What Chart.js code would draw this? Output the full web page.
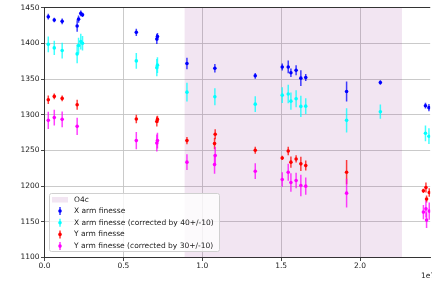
<!DOCTYPE html>
<html>
<head>
<meta charset="utf-8">
<script src="https://cdn.jsdelivr.net/npm/chart.js@4.4.1/dist/chart.umd.min.js"></script>
<style>
  html, body { margin: 0; padding: 0; background: #fff; overflow: hidden; }
  canvas { display: block; }
</style>
</head>
<body>
<canvas id="finesseChart" width="432" height="281"></canvas>
<script>
// measurement times (seconds), X arm and Y arm
const xArmTimes = [2.4e5, 6.2e5, 1.12e6, 2.07e6, 2.16e6, 2.30e6, 2.41e6, 5.82e6, 7.12e6, 7.16e6,
  9.03e6, 1.080e7, 1.336e7, 1.507e7, 1.545e7, 1.562e7, 1.595e7, 1.625e7, 1.656e7, 1.915e7,
  2.129e7, 2.415e7, 2.437e7];
const xFinesse = [1437.4, 1432.8, 1430.9, 1424.4, 1434, 1442, 1440, 1415.5, 1406, 1409.5,
  1371.8, 1365.2, 1354.6, 1367, 1367, 1358.8, 1362.4, 1351.3, 1352.2, 1332.7,
  1345.2, 1312.7, 1310];
const xFinesseErr = [4, 3, 4, 8, 5, 4, 3, 5, 7, 5, 8, 6, 4, 5, 9, 6, 7, 11, 5, 14, 3, 4, 5];
const xCorrected = [1398.7, 1393.7, 1390, 1385.3, 1397, 1402.6, 1400.2, 1375.5, 1366, 1369.5,
  1331.7, 1325.3, 1314.9, 1327.5, 1329, 1319.1, 1322.4, 1311.7, 1312.1, 1292.2,
  1304.3, 1274, 1270];
const xCorrectedErr = [11, 10, 11, 13, 11, 11, 10, 11, 12, 11, 13, 12, 11, 11, 13, 12, 12, 15, 11, 17, 10, 11, 11];

const yArmTimes = [2.4e5, 6.2e5, 1.12e6, 2.07e6, 5.82e6, 7.12e6, 7.16e6, 9.03e6, 1.078e7, 1.082e7,
  1.336e7, 1.507e7, 1.545e7, 1.562e7, 1.595e7, 1.625e7, 1.656e7, 1.915e7,
  2.402e7, 2.418e7, 2.422e7, 2.439e7];
const yFinesse = [1321.1, 1325.7, 1322.9, 1314.1, 1294, 1290.5, 1293.5, 1263.8, 1259.6, 1272.6,
  1250.3, 1239.5, 1249.3, 1233.6, 1238.1, 1231.2, 1228.8, 1219.5,
  1193.5, 1198, 1182, 1191];
const yFinesseErr = [6, 4, 4, 7, 6, 7, 5, 5, 8, 7, 5, 3, 6, 8, 5, 10, 7, 17, 3, 7, 5, 6];
const yCorrected = [1292.2, 1296, 1293.6, 1283.8, 1263.8, 1260.5, 1263.8, 1233.6, 1230.2, 1242.8,
  1220.9, 1209.3, 1219.5, 1205.1, 1207.9, 1200.9, 1200, 1190.2,
  1163.6, 1168.2, 1152.4, 1165];
const yCorrectedErr = [12, 11, 11, 12, 12, 12, 11, 11, 13, 12, 11, 10, 12, 13, 11, 15, 12, 20, 10, 12, 11, 12];

const o4cSpan = [0.888e7, 2.266e7];
const xTickValues = [0, 0.5e7, 1.0e7, 1.5e7, 2.0e7];
const yTickValues = [1100, 1150, 1200, 1250, 1300, 1350, 1400, 1450];

const seriesLabels = ['X arm finesse', 'X arm finesse (corrected by 40+/-10)',
  'Y arm finesse', 'Y arm finesse (corrected by 30+/-10)'];
const seriesColors = ['#0000ff', '#00ffff', '#ff0000', '#ff00ff'];
const spanFill = 'rgba(128, 0, 128, 0.1)';

function points(times, vals, errs) {
  return times.map((t, i) => ({ x: t, y: vals[i], err: errs[i] }));
}

const FONT = "'DejaVu Sans', sans-serif";
Chart.defaults.font.family = FONT;

// shaded O4c band + error bars, under the markers
const errorBars = {
  id: 'errorBars',
  beforeDatasetsDraw(chart) {
    const { ctx, chartArea, scales: { x, y } } = chart;
    ctx.save();
    ctx.beginPath();
    ctx.rect(chartArea.left, chartArea.top, chartArea.right - chartArea.left, chartArea.bottom - chartArea.top);
    ctx.clip();
    const x0 = x.getPixelForValue(o4cSpan[0]);
    const x1 = x.getPixelForValue(o4cSpan[1]);
    ctx.fillStyle = spanFill;
    ctx.fillRect(x0, chartArea.top, x1 - x0, chartArea.bottom - chartArea.top);

    chart.data.datasets.forEach((ds) => {
      ctx.strokeStyle = ds.barColor;
      ctx.lineWidth = 1.5;
      ds.data.forEach((p) => {
        const px = x.getPixelForValue(p.x);
        ctx.beginPath();
        ctx.moveTo(px, y.getPixelForValue(p.y - p.err));
        ctx.lineTo(px, y.getPixelForValue(p.y + p.err));
        ctx.stroke();
      });
    });
    ctx.restore();
  },
  afterDraw(chart) {
    const { ctx, chartArea } = chart;
    ctx.save();
    // top spine
    ctx.strokeStyle = '#333';
    ctx.lineWidth = 1;
    ctx.beginPath();
    ctx.moveTo(chartArea.left, chartArea.top + 0.5);
    ctx.lineTo(chartArea.right, chartArea.top + 0.5);
    ctx.stroke();

    // offset label
    ctx.fillStyle = '#222';
    ctx.font = '7.5px ' + FONT;
    ctx.textAlign = 'left';
    ctx.textBaseline = 'middle';
    ctx.fillText('1e7', 421, 276);

    // legend
    const bx = 49.5, by = 193.5, bw = 170, bh = 58;
    ctx.beginPath();
    ctx.roundRect(bx, by, bw, bh, 2);
    ctx.fillStyle = 'rgba(255,255,255,0.8)';
    ctx.fill();
    ctx.strokeStyle = '#d0d0d0';
    ctx.stroke();

    ctx.fillStyle = spanFill;
    ctx.fillRect(52, 197, 16, 5.5);
    ctx.fillStyle = '#222';
    ctx.fillText('O4c', 74, 200);

    seriesLabels.forEach((lab, i) => {
      const ly = 211 + i * 11.7;
      ctx.strokeStyle = seriesColors[i];
      ctx.globalAlpha = 0.8;
      ctx.lineWidth = 1.5;
      ctx.beginPath();
      ctx.moveTo(60, ly - 4);
      ctx.lineTo(60, ly + 4);
      ctx.stroke();
      ctx.globalAlpha = 1;
      ctx.fillStyle = seriesColors[i];
      ctx.beginPath();
      ctx.arc(60, ly, 1.8, 0, Math.PI * 2);
      ctx.fill();
      ctx.fillStyle = '#222';
      ctx.fillText(lab, 74, ly);
    });
    ctx.restore();
  }
};

const ctx = document.getElementById('finesseChart').getContext('2d');
const finesseChart = new Chart(ctx, {
  type: 'scatter',
  data: {
    datasets: [
      { label: seriesLabels[0], data: points(xArmTimes, xFinesse, xFinesseErr),
        backgroundColor: seriesColors[0], borderColor: seriesColors[0], barColor: 'rgba(0,0,255,0.75)' },
      { label: seriesLabels[1], data: points(xArmTimes, xCorrected, xCorrectedErr),
        backgroundColor: seriesColors[1], borderColor: seriesColors[1], barColor: 'rgba(0,255,255,0.75)' },
      { label: seriesLabels[2], data: points(yArmTimes, yFinesse, yFinesseErr),
        backgroundColor: seriesColors[2], borderColor: seriesColors[2], barColor: 'rgba(255,0,0,0.75)' },
      { label: seriesLabels[3], data: points(yArmTimes, yCorrected, yCorrectedErr),
        backgroundColor: seriesColors[3], borderColor: seriesColors[3], barColor: 'rgba(255,0,255,0.75)' }
    ]
  },
  options: {
    responsive: false,
    animation: false,
    devicePixelRatio: 1,
    layout: { padding: { top: 7, left: 0, right: 0, bottom: 0 } },
    elements: { point: { radius: 1.8, borderWidth: 0, hoverRadius: 1.8 } },
    plugins: { legend: { display: false }, tooltip: { enabled: false } },
    scales: {
      x: {
        type: 'linear',
        min: 0,
        max: 2.445e7,
        afterBuildTicks: (s) => { s.ticks = xTickValues.map(v => ({ value: v })); },
        afterFit: (s) => { s.height = 23.5; },
        ticks: {
          callback: (v) => (v / 1e7).toFixed(1),
          color: '#222', font: { size: 7.5 }, padding: 1, maxRotation: 0
        },
        grid: { color: '#c4c4c4', lineWidth: 0.9, tickLength: 3.5, tickColor: '#333' },
        border: { display: true, color: '#333', width: 1 }
      },
      y: {
        min: 1100,
        max: 1451,
        afterBuildTicks: (s) => { s.ticks = yTickValues.map(v => ({ value: v })); },
        afterFit: (s) => { s.width = 44.5; },
        ticks: { callback: (v) => String(v), color: '#222', font: { size: 7.5 }, padding: 1.5 },
        grid: { color: '#c4c4c4', lineWidth: 0.9, tickLength: 3.5, tickColor: '#333' },
        border: { display: true, color: '#333', width: 1 }
      }
    }
  },
  plugins: [errorBars]
});
</script>
</body>
</html>
